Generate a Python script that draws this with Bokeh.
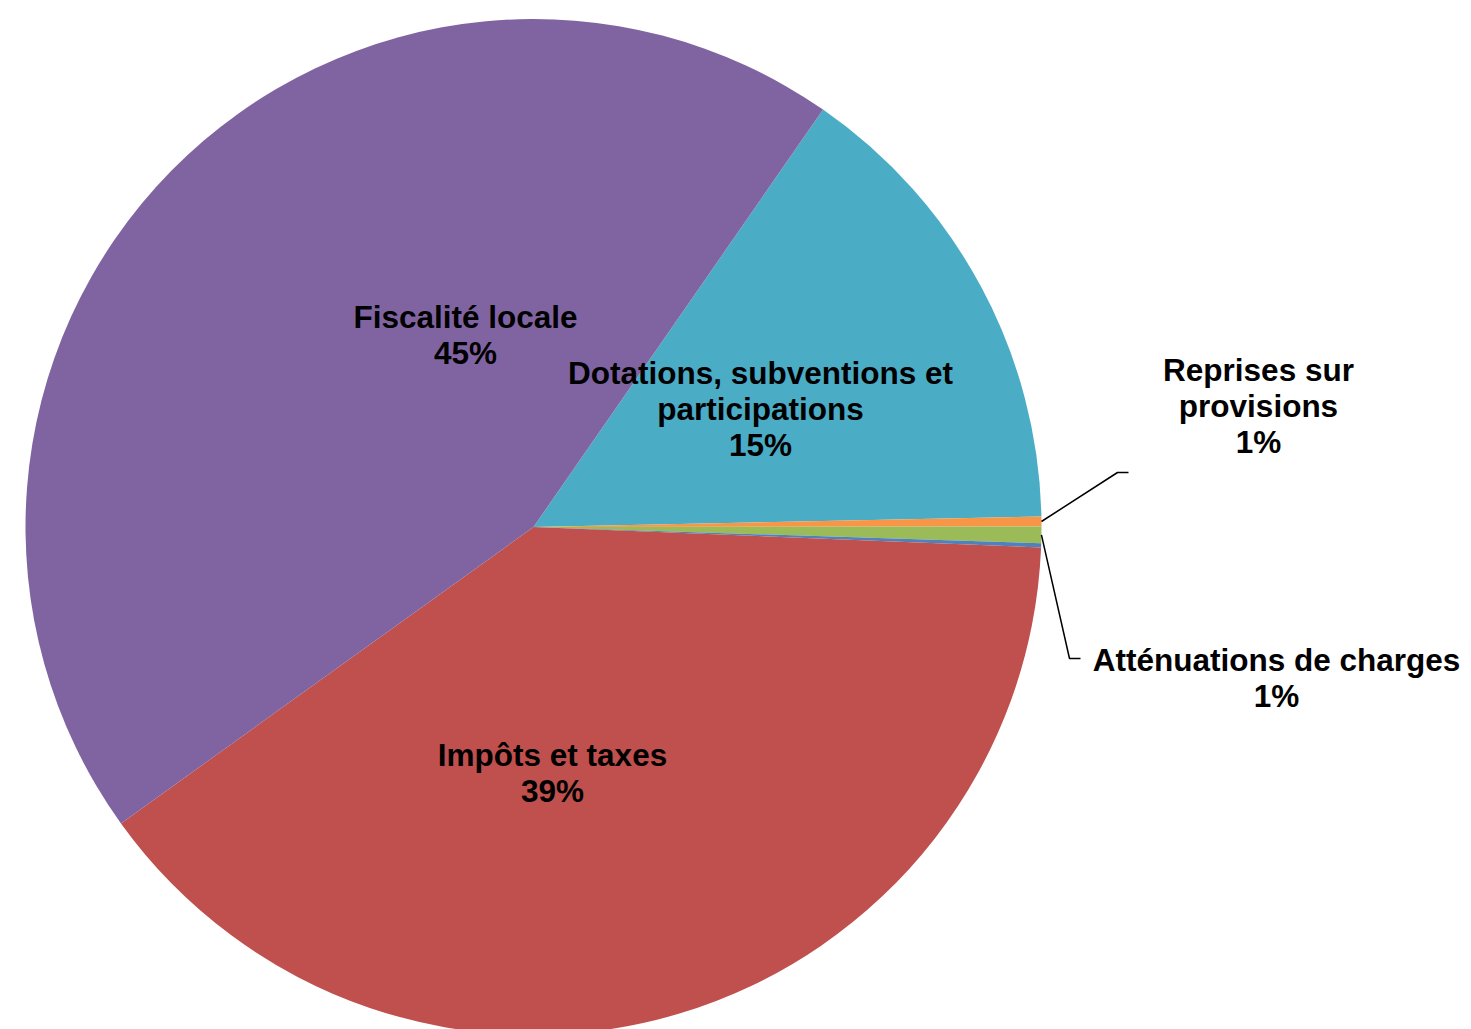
import math
from bokeh.plotting import figure
from bokeh.models import Range1d, ColumnDataSource
from bokeh.core.properties import value
from bokeh.embed import file_html
from bokeh.resources import INLINE

# ---- data (clockwise order starting from the Dotations slice) ----
categories = ["Dotations, subventions et participations", "Reprises sur provisions",
              "Atténuations de charges", "Autres produits", "Impôts et taxes", "Fiscalité locale"]
shares = [15.02, 0.31, 0.53, 0.13, 39.44, 44.57]
pct_labels = ["15%", "1%", "1%", "", "39%", "45%"]
name_lines = [["Dotations, subventions et", "participations"],
              ["Reprises sur", "provisions"],
              ["Atténuations de charges"],
              [],
              ["Impôts et taxes"],
              ["Fiscalité locale"]]
colors = ["#4BACC6", "#F79646", "#9BBB59", "#4F81BD", "#C0504D", "#8064A2"]

# ---- layout (pixels from top-left) ----
W, H = 1471, 1029
CX, CY, R = 533, H - 526.5, 508
START_DEG = 55.25
label_pos = [(760, 372), (1258, 369), (1276, 659), None, (552, 754), (465, 316)]
LINE_H = 36.3
leader = {1: [(1117, 472), (1128, 472)], 2: [(1069, 658), (1080, 658)]}

# ---- wedges ----
total = sum(shares)
starts, ends, mids = [], [], []
a = math.radians(START_DEG)
for s in shares:
    b = a - s / total * 2 * math.pi
    starts.append(b)
    ends.append(a)
    mids.append((a + b) / 2)
    a = b

src = ColumnDataSource(dict(cat=categories, start=starts, end=ends, color=colors))

p = figure(width=W, height=H, x_range=Range1d(0, W), y_range=Range1d(0, H),
           x_axis_type=None, y_axis_type=None, toolbar_location=None,
           output_backend="svg", min_border=0, outline_line_color=None)
p.grid.visible = False
p.background_fill_color = "white"
p.border_fill_color = "white"

p.wedge(x=CX, y=CY, radius=R, start_angle="start", end_angle="end",
        direction="anticlock", fill_color="color", line_color=None, source=src)

# ---- leader lines ----
xs, ys = [], []
for i, pts in leader.items():
    sx = CX + R * math.cos(mids[i])
    sy = CY + R * math.sin(mids[i])
    xs.append([sx] + [q[0] for q in pts])
    ys.append([sy] + [H - q[1] for q in pts])
p.multi_line(xs=xs, ys=ys, line_color="black", line_width=1.5)

# ---- labels ----
tx, ty, tt = [], [], []
for i, pos in enumerate(label_pos):
    if pos is None:
        continue
    lines = name_lines[i] + [pct_labels[i]]
    for k, t in enumerate(lines):
        tx.append(pos[0])
        ty.append(H - (pos[1] + k * LINE_H))
        tt.append(t)
p.text(x=tx, y=ty, text=tt, text_font=value("Liberation Sans"), text_font_style="bold",
       text_font_size="31.5px", text_align="center", text_baseline="alphabetic",
       text_color="black")

open("out.html", "w").write(file_html(p, INLINE))
